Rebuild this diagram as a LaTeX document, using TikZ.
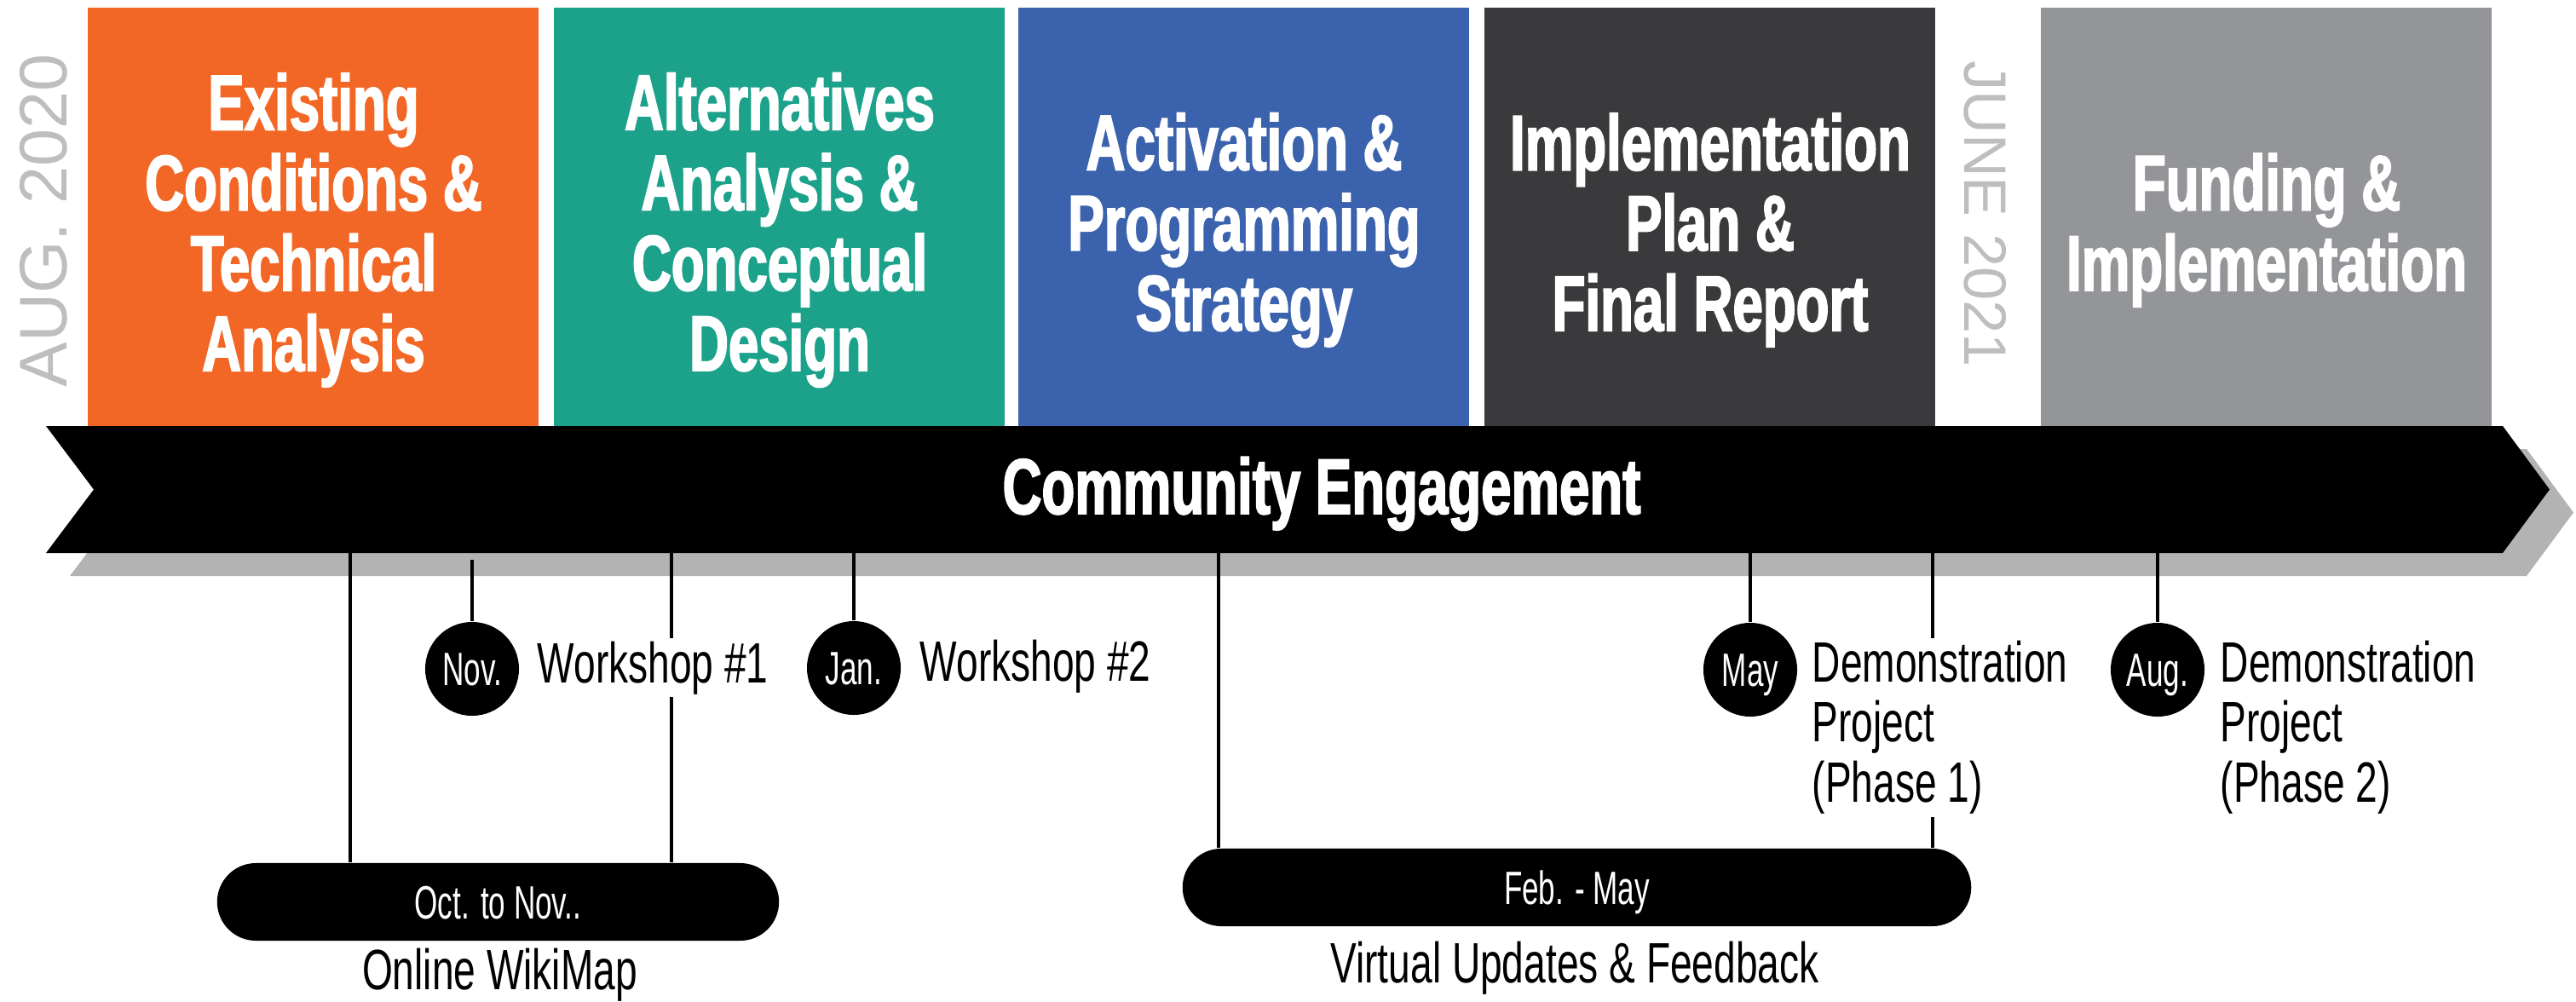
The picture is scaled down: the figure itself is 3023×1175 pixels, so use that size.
\documentclass[tikz,border=0pt]{standalone}
\usepackage{fontspec}
\setmainfont{Liberation Sans}
\newfontfamily\headfont{Liberation Sans}[FakeStretch=0.69,FakeBold=2]
\newfontfamily\thinfont{Liberation Sans}[FakeStretch=0.69]
\newfontfamily\pillfont{Liberation Sans}[FakeStretch=0.64]
\definecolor{phorange}{HTML}{F26725}
\definecolor{phteal}{HTML}{1CA18B}
\definecolor{phblue}{HTML}{3A62AD}
\definecolor{phdark}{HTML}{3A3A3C}
\definecolor{phgray}{HTML}{939598}
\definecolor{dategray}{HTML}{BCBEC0}
\definecolor{shadowgray}{HTML}{B3B3B3}

\begin{document}
\begin{tikzpicture}[x=0.01cm,y=-0.01cm,
  phase/.style={text=white,align=center,inner sep=0pt,font=\headfont\bfseries\fontsize{26.2}{26.8}\selectfont},
  datelbl/.style={text=dategray,inner sep=0pt},
  conn/.style={draw=black,line width=0.95pt},
  monthdot/.style={circle,fill=black,text=white,inner sep=0pt,minimum size=1.1cm,text height=11.2pt,text depth=0pt,font=\pillfont\fontsize{15.6}{16}\selectfont},
  pill/.style={rectangle,rounded corners=0.455cm,fill=black,text=white,inner sep=0pt,minimum height=0.91cm,text height=11.2pt,text depth=0pt,font=\pillfont\fontsize{15.6}{16}\selectfont},
  lbl/.style={fill=white,inner xsep=0pt,inner ysep=1pt,font=\thinfont\fontsize{19}{20}\selectfont}]
  \useasboundingbox (0,0) rectangle (3023,1175);

  % phase boxes
  \foreach \xl/\col/\id/\txt in {
    103/phorange/exist/{Existing\\Conditions \&\\Technical\\Analysis},
    650/phteal/alt/{Alternatives\\Analysis \&\\Conceptual\\Design},
    1195/phblue/act/{Activation \&\\Programming\\Strategy},
    1742/phdark/impl/{Implementation\\Plan \&\\Final Report},
    2395/phgray/fund/{Funding \&\\Implementation}} {
    \fill[\col] (\xl,9) rectangle ++(529,491);
    \node[phase] (\id) at (\xl+265,270) {\txt};
  }

  % dates
  \node[datelbl,rotate=90,font=\fontsize{22.5}{24}\selectfont] (start) at (51,259) {AUG. 2020};
  \node[datelbl,rotate=-90,font=\fontsize{20}{22}\selectfont] (finish) at (2330,251) {JUNE 2021};

  % engagement band
  \fill[shadowgray,shift={(28,27)}] (54,500) -- (2937,500) -- (2992,574.5) -- (2937,649) -- (54,649) -- (110,574.5) -- cycle;
  \fill[black] (54,500) -- (2937,500) -- (2992,574.5) -- (2937,649) -- (54,649) -- (110,574.5) -- cycle;
  \node[phase,anchor=base] (band) at (1551,603) {Community Engagement};

  % ticks on the band
  \coordinate (t1) at (411,649);
  \coordinate (t2) at (554,657);
  \coordinate (t3) at (788,649);
  \coordinate (t4) at (1002,649);
  \coordinate (t5) at (1430,649);
  \coordinate (t6) at (2054,649);
  \coordinate (t7) at (2268,649);
  \coordinate (t8) at (2532,649);

  % months and ranges
  \node[monthdot] (nov) at (554,785) {Nov.};
  \node[monthdot] (jan) at (1002,784) {Jan.};
  \node[monthdot] (may) at (2054,786) {May};
  \node[monthdot] (aug) at (2532,786) {Aug.};
  \node[pill,minimum width=6.59cm] (wiki) at (584.5,1058.5) {Oct. to Nov..};
  \node[pill,minimum width=9.25cm] (virt) at (1850.5,1041.5) {Feb. - May};

  \draw[conn] (t1) -- (t1 |- wiki.north);
  \draw[conn] (t2) -- (nov);
  \draw[conn] (t3) -- (t3 |- wiki.north);
  \draw[conn] (t4) -- (jan);
  \draw[conn] (t5) -- (t5 |- virt.north);
  \draw[conn] (t6) -- (may);
  \draw[conn] (t7) -- (t7 |- virt.north);
  \draw[conn] (t8) -- (aug);

  % labels
  \node[lbl,anchor=base west] (ws1) at (630,801) {Workshop \#1};
  \node[lbl,anchor=base west] (ws2) at (1079,799) {Workshop \#2};
  \node[lbl,anchor=north west,align=left] (demo1) at (2126,748) {Demonstration\\Project\\(Phase 1)};
  \node[lbl,anchor=north west,align=left] (demo2) at (2605,748) {Demonstration\\Project\\(Phase 2)};
  \node[lbl,anchor=base] (wikitxt) at (586.5,1161) {Online WikiMap};
  \node[lbl,anchor=base] (virttxt) at (1848,1153) {Virtual Updates \& Feedback};
\end{tikzpicture}
\end{document}
